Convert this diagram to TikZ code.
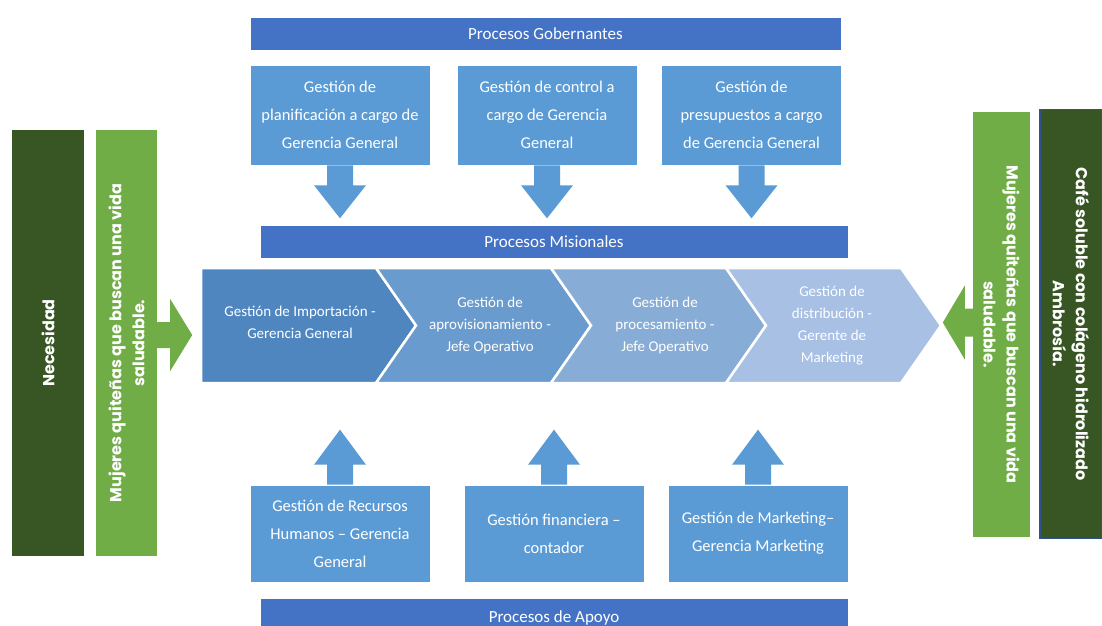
\documentclass[tikz,border=0pt]{standalone}
\usepackage{fontspec}
\setmainfont{Carlito}
\newfontfamily\verdefont{Poppins}
\usetikzlibrary{calc,positioning}
\definecolor{azulbarra}{HTML}{4472C4}
\definecolor{azulcaja}{HTML}{5B9BD5}
\definecolor{chevA}{HTML}{4F86C0}
\definecolor{chevB}{HTML}{6A9BCE}
\definecolor{chevC}{HTML}{87ADD7}
\definecolor{chevD}{HTML}{A7C0E4}
\definecolor{verdeosc}{HTML}{375623}
\definecolor{verdeclaro}{HTML}{70AD47}
\definecolor{bordeazul}{HTML}{2F528F}
% block arrow: colour, start, end, half shaft, half head, head length
\newcommand{\flecha}[6]{%
  \path ($(#3)!#6!(#2)$) coordinate (fh);
  \fill[#1] ($(#2)!#4!90:(#3)$) -- ($(fh)!#4!90:(#3)$) -- ($(fh)!#5!90:(#3)$) -- (#3)
    -- ($(fh)!#5!-90:(#3)$) -- ($(fh)!#4!-90:(#3)$) -- ($(#2)!#4!-90:(#3)$) -- cycle;}
\tikzset{
  barra/.style={fill=azulbarra, draw=white, line width=0.6, text=white, inner sep=0,
    minimum width=591, minimum height=33, font=\fontsize{17}{18}\selectfont},
  caja/.style={fill=azulcaja, draw=white, line width=0.6, text=white, align=center,
    minimum width=180, minimum height=100, inner sep=0, font=\fontsize{16.5}{28}\selectfont},
  chevtxt/.style={text=white, align=center, inner sep=0, font=\fontsize{15}{22}\selectfont},
  verde/.style={text=white, align=center, inner sep=0, font=\verdefont\bfseries\fontsize{16}{23}\selectfont}
}
\begin{document}
\begin{tikzpicture}[x=1pt, y=-1pt]
\useasboundingbox[fill=white] (0,0) rectangle (1102,625);
% procesos gobernantes
\node[barra] (gob) at (545.5,33.5) {Procesos Gobernantes};
\node[caja] (g1) at (340,115) {Gestión de\\planificación a cargo de\\Gerencia General};
\node[caja] (g2) at (547,115) {Gestión de control a\\cargo de Gerencia\\General};
\node[caja] (g3) at (751.5,115) {Gestión de\\presupuestos a cargo\\de Gerencia General};
\node[barra, minimum width=588] (mis) at (554,242) {Procesos Misionales};
\coordinate (d1) at ($(g1.south)+(0,53)$);
\coordinate (d2) at ($(g2.south)+(0,53)$);
\coordinate (d3) at ($(g3.south)+(0,53)$);
\flecha{azulcaja}{g1.south}{d1}{13pt}{26pt}{33pt}
\flecha{azulcaja}{g2.south}{d2}{13pt}{26pt}{33pt}
\flecha{azulcaja}{g3.south}{d3}{13pt}{26pt}{33pt}
% cadena de valor
\fill[chevA, draw=white, line width=2.5] (201,268) -- (376,268) -- (416,325.5) -- (376,383) -- (201,383) -- cycle;
\foreach \i/\col in {1/chevB,2/chevC,3/chevD}{
  \pgfmathsetmacro{\a}{201+175*\i}
  \fill[\col, draw=white, line width=2.5] (\a,268) -- ++(175,0) -- ++(40,57.5) -- ++(-40,57.5)
    -- ++(-175,0) -- ++(40,-57.5) -- cycle;
}
\node[chevtxt] (c1) at (300,322) {Gestión de Importación -\\Gerencia General};
\node[chevtxt] (c2) at (490,325) {Gestión de\\aprovisionamiento -\\Jefe Operativo};
\node[chevtxt] (c3) at (665,325) {Gestión de\\procesamiento -\\Jefe Operativo};
\node[chevtxt] (c4) at (832,326) {Gestión de\\distribución -\\Gerente de\\Marketing};
% procesos de apoyo
\node[caja, minimum height=97] (a1) at (340,533.5) {Gestión de Recursos\\Humanos – Gerencia\\General};
\node[caja, minimum height=97] (a2) at (554,533.5) {Gestión financiera –\\contador};
\node[caja, minimum height=97] (a3) at (758,533.5) {Gestión de Marketing–\\Gerencia Marketing};
\node[barra, minimum width=588, minimum height=40] (apo) at (554,618) {Procesos de Apoyo};
\coordinate (u1) at ($(a1.north)+(0,-55)$);
\coordinate (u2) at ($(a2.north)+(0,-55)$);
\coordinate (u3) at ($(a3.north)+(0,-55)$);
\flecha{azulcaja}{a1.north}{u1}{13pt}{26pt}{35pt}
\flecha{azulcaja}{a2.north}{u2}{13pt}{26pt}{35pt}
\flecha{azulcaja}{a3.north}{u3}{13pt}{26pt}{35pt}
% necesidad y producto
\node[verde, fill=verdeosc, rotate=90, minimum width=426, minimum height=72] (nec) at (48,343) {Necesidad};
\node[verde, fill=verdeclaro, rotate=90, minimum width=426, minimum height=61] (muj1) at (126.5,343)
  {Mujeres quiteñas que buscan una vida\\saludable.};
\node[verde, fill=verdeclaro, rotate=-90, minimum width=425, minimum height=57] (muj2) at (1001.5,324.5)
  {Mujeres quiteñas que buscan una vida\\saludable.};
\node[verde, fill=verdeosc, draw=bordeazul, line width=1.2, rotate=-90, minimum width=429, minimum height=62]
  (cafe) at (1071,324) {Café soluble con colágeno hidrolizado\\Ambrosía.};
\coordinate (v1) at ($(muj1.south)+(35,-8)$);
\coordinate (v2) at ($(muj2.south)+(-30,-2)$);
\flecha{verdeclaro}{$(muj1.south)+(0,-8)$}{v1}{13pt}{36pt}{22pt}
\flecha{verdeclaro}{$(muj2.south)+(0,-2)$}{v2}{14pt}{37pt}{22pt}
\end{tikzpicture}
\end{document}
